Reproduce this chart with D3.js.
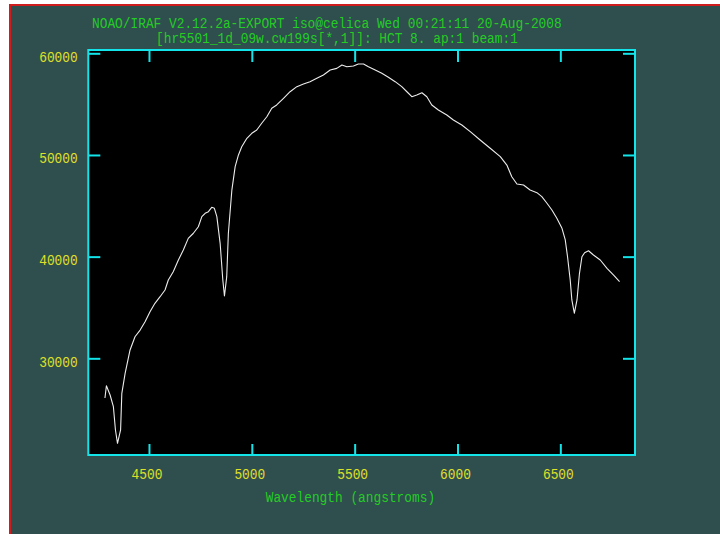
<!DOCTYPE html>
<html>
<head>
<meta charset="utf-8">
<script src="https://cdn.jsdelivr.net/npm/d3@7"></script>
<style>
  html, body { margin: 0; padding: 0; background: #ffffff; }
  svg { display: block; }
</style>
</head>
<body>
<svg id="chart" width="720" height="534"></svg>
<script>
// Spectrum of hr5501 (IRAF splot style): wavelength in angstroms vs. counts
const wavelength = [
  4286, 4293, 4311, 4327, 4337, 4347, 4362, 4368, 4384, 4408,
  4432, 4457, 4481, 4505, 4529, 4554, 4578, 4594, 4618, 4643,
  4667, 4691, 4716, 4740, 4757, 4773, 4789, 4805, 4818, 4830,
  4846, 4859, 4867, 4878, 4886, 4903, 4919, 4935, 4951, 4976,
  5000, 5024, 5048, 5073, 5097, 5121, 5154, 5186, 5219, 5251,
  5283, 5316, 5348, 5381, 5413, 5438, 5462, 5494, 5518, 5543,
  5567, 5600, 5632, 5664, 5697, 5729, 5754, 5778, 5802, 5827,
  5851, 5875, 5907, 5948, 5980, 6021, 6062, 6110, 6159, 6208,
  6240, 6264, 6289, 6321, 6353, 6386, 6410, 6435, 6459, 6483,
  6508, 6524, 6535, 6548, 6556, 6568, 6581, 6593, 6605, 6618,
  6637, 6661, 6694, 6727, 6759, 6788
];
const flux = [
  26100, 27300, 26390, 25240, 22950, 21640, 22950, 26560, 28520, 30820,
  32120, 32780, 33600, 34580, 35410, 36060, 36720, 37700, 38520, 39670,
  40650, 41800, 42300, 42940, 43930, 44260, 44420, 44850, 44750, 43930,
  41310, 37700, 36130, 38030, 42300, 46550, 48850, 50000, 50810, 51640,
  52130, 52460, 53120, 53760, 54590, 54920, 55570, 56220, 56720, 56980,
  57210, 57540, 57870, 58360, 58520, 58850, 58680, 58750, 58950, 58950,
  58680, 58360, 58030, 57640, 57210, 56720, 56220, 55730, 55900, 56120,
  55730, 54920, 54420, 53930, 53440, 52950, 52290, 51470, 50660, 49830,
  49010, 47860, 47140, 47050, 46550, 46290, 45900, 45250, 44590, 43770,
  42790, 41640, 39990, 37700, 35740, 34430, 35740, 38360, 39990, 40390,
  40580, 40160, 39670, 38850, 38190, 37540
];
const xTicks = [4500, 5000, 5500, 6000, 6500];
const yTicks = [30000, 40000, 50000, 60000];
const xDomain = [4205, 6863];
const yDomain = [20490, 60325];
const titleLines = [
  "NOAO/IRAF V2.12.2a-EXPORT iso@celica Wed 00:21:11 20-Aug-2008",
  "[hr5501_1d_09w.cw199s[*,1]]: HCT 8. ap:1 beam:1"
];
const xLabel = "Wavelength (angstroms)";

const COL = {
  page: "#2f4f4f",
  edge: "#d01c1c",
  frame: "#12e4ea",
  tick: "#e0e028",
  title: "#24cc24",
  trace: "#ececec"
};
const FONT = "'Liberation Mono', 'DejaVu Sans Mono', monospace";
const FSIZE = "14px";
const CHAR_W = 7.7;

const svg = d3.select("#chart");

// window background with red border edges
svg.append("rect").attr("x", 10).attr("y", 5).attr("width", 710).attr("height", 529)
  .attr("fill", COL.page);
svg.append("line").attr("x1", 10).attr("x2", 10).attr("y1", 4).attr("y2", 534)
  .attr("stroke", COL.edge).attr("stroke-width", 2);
svg.append("line").attr("x1", 9).attr("x2", 720).attr("y1", 5).attr("y2", 5)
  .attr("stroke", COL.edge).attr("stroke-width", 2);

const L = 88.3, R = 635, T = 50, B = 455;
const x = d3.scaleLinear().domain(xDomain).range([L, R]);
const y = d3.scaleLinear().domain(yDomain).range([B, T]);

// plot area
svg.append("rect").attr("x", L).attr("y", T).attr("width", R - L).attr("height", B - T)
  .attr("fill", "#000000");

// spectrum trace
const pts = wavelength.map((w, i) => [w, flux[i]]);
svg.append("path")
  .datum(pts)
  .attr("fill", "none")
  .attr("stroke", COL.trace)
  .attr("stroke-width", 1.1)
  .attr("stroke-linejoin", "round")
  .attr("d", d3.line().x(d => x(d[0])).y(d => y(d[1])));

function styleTicks(g) {
  g.select(".domain").remove();
  g.selectAll(".tick line").attr("stroke", COL.frame).attr("stroke-width", 2);
}

function styleLabel(sel) {
  sel.attr("fill", COL.tick)
    .style("font-family", FONT).style("font-size", FSIZE)
    .attr("textLength", d => String(d).length * CHAR_W)
    .attr("lengthAdjust", "spacingAndGlyphs");
}

// bottom axis: inward ticks + labels
const gB = svg.append("g").attr("transform", `translate(0,${B})`)
  .call(d3.axisBottom(x).tickValues(xTicks).tickSize(-11).tickFormat(d3.format("d")));
styleTicks(gB);
gB.selectAll(".tick text").attr("y", 24).attr("dy", 0).attr("x", -2.5).call(styleLabel);

// top axis: inward ticks only
const gT = svg.append("g").attr("transform", `translate(0,${T})`)
  .call(d3.axisTop(x).tickValues(xTicks).tickSize(-12).tickFormat(""));
styleTicks(gT);

// left axis: inward ticks + labels
const gL = svg.append("g").attr("transform", `translate(${L},0)`)
  .call(d3.axisLeft(y).tickValues(yTicks).tickSize(-12).tickFormat(d3.format("d")));
styleTicks(gL);
gL.selectAll(".tick text").attr("x", -10.6).attr("y", 8).attr("dy", 0)
  .attr("text-anchor", "end").call(styleLabel);

// right axis: inward ticks only
const gR = svg.append("g").attr("transform", `translate(${R},0)`)
  .call(d3.axisRight(y).tickValues(yTicks).tickSize(-12).tickFormat(""));
styleTicks(gR);

// frame
svg.append("rect").attr("x", L).attr("y", T).attr("width", R - L).attr("height", B - T)
  .attr("fill", "none").attr("stroke", COL.frame).attr("stroke-width", 2);

// title lines
const titleStarts = [92, 156];
const titleBase = [27.5, 43];
titleLines.forEach((t, i) => {
  svg.append("text")
    .attr("x", titleStarts[i]).attr("y", titleBase[i])
    .attr("fill", COL.title)
    .style("font-family", FONT).style("font-size", FSIZE)
    .attr("textLength", t.length * CHAR_W)
    .attr("lengthAdjust", "spacingAndGlyphs")
    .text(t);
});

// x axis label
svg.append("text")
  .attr("x", 265.7).attr("y", 501.5)
  .attr("fill", COL.title)
  .style("font-family", FONT).style("font-size", FSIZE)
  .attr("textLength", xLabel.length * CHAR_W)
  .attr("lengthAdjust", "spacingAndGlyphs")
  .text(xLabel);
</script>
</body>
</html>
